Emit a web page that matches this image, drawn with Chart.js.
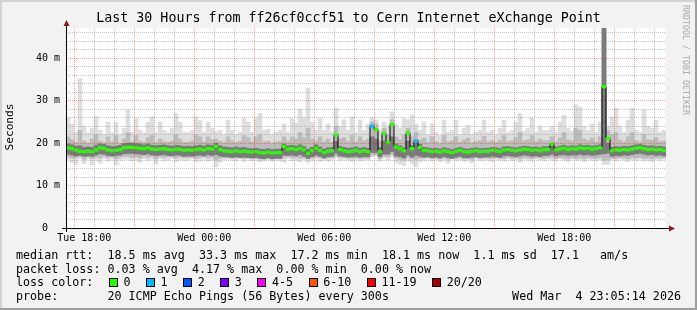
<!DOCTYPE html>
<html><head><meta charset="utf-8">
<script src="https://cdn.jsdelivr.net/npm/chart.js@4.4.1/dist/chart.umd.min.js"></script>
<style>
html,body{margin:0;padding:0;background:#f2f2f2;}
#wrap{position:relative;width:697px;height:310px;overflow:hidden;background:#f2f2f2;font-family:'DejaVu Sans Mono',monospace;color:#000;}
#c{position:absolute;left:0;top:0;}
.t{position:absolute;white-space:pre;font-size:11.7px;line-height:14px;}
.box{display:inline-block;width:7px;height:7px;border:1px solid #000;margin:0 5.5px 0 1.5px;vertical-align:-1px;}
#title{position:absolute;left:0;top:10px;width:697px;text-align:center;font-size:13.3px;line-height:16px;white-space:pre;}
#ylab{position:absolute;left:-30px;top:120px;width:80px;text-align:center;font-size:11.2px;line-height:14px;transform:rotate(-90deg);}
#wm{position:absolute;left:626px;top:53px;width:120px;text-align:center;font-size:8.3px;line-height:14px;transform:rotate(90deg);color:#a8a8a8;white-space:pre;}
.bt,.bl,.bb,.br{position:absolute;}
.bt{left:0;top:0;width:697px;height:2px;background:#d2d2d2;}
.bl{left:0;top:0;width:2px;height:310px;background:#d2d2d2;}
.bb{left:0;top:308px;width:697px;height:2px;background:#9e9e9e;}
.br{left:695px;top:0;width:2px;height:310px;background:#9e9e9e;}
</style></head>
<body>
<div id="wrap">
<div class="bt"></div><div class="bl"></div><div class="bb"></div><div class="br"></div>
<canvas id="c" width="697" height="310" style="width:697px;height:310px"></canvas>
<div id="title">Last 30 Hours from ff26cf0ccf51 to Cern Internet eXchange Point</div>
<div id="ylab">Seconds</div>
<div id="wm">RRDTOOL / TOBI OETIKER</div>
<div class="t" style="left:16px;top:248px">median rtt:  18.5 ms avg  33.3 ms max  17.2 ms min  18.1 ms now  1.1 ms sd  17.1   am/s</div>
<div class="t" style="left:16px;top:262px">packet loss: 0.03 % avg  4.17 % max  0.00 % min  0.00 % now</div>
<div class="t" id="lossLine" style="left:16px;top:275px">loss color:  </div>
<div class="t" style="left:16px;top:289px">probe:       20 ICMP Echo Pings (56 Bytes) every 300s</div>
<div class="t" style="right:16px;top:289px">Wed Mar  4 23:05:14 2026</div>
</div>
<script>
// ---- data (ms), one value per 12-minute bin, 150 bins over 30 hours ----
const med = [
18.9,18.7,18.4,18.1,18.0,18.1,18.0,18.4,18.9,18.8,18.4,18.2,18.3,18.5,18.9,
19.0,19.0,18.9,18.8,18.7,18.9,18.6,18.5,18.6,18.7,18.5,18.4,18.6,18.5,18.3,
18.4,18.3,18.5,18.6,18.4,18.7,18.6,19.2,18.5,18.2,18.1,18.0,18.2,18.0,18.1,
18.0,17.9,18.0,17.8,17.7,17.9,17.7,17.8,17.8,19.2,18.6,18.7,18.5,18.8,18.4,
17.6,18.2,18.8,18.3,17.8,18.1,18.2,21.9,18.5,18.2,18.0,18.1,18.3,18.0,18.2,
18.0,24.0,23.2,18.0,22.3,20.2,24.4,19.1,18.7,18.2,22.4,18.7,20.5,19.0,18.3,
18.2,18.0,18.1,17.9,18.2,18.0,17.8,18.1,18.3,18.0,17.9,18.1,18.2,18.0,18.1,
18.1,18.3,18.2,18.0,18.4,18.5,18.3,18.2,18.4,18.6,18.5,18.3,18.4,18.2,18.5,
18.5,19.8,18.4,18.6,18.8,18.5,18.7,18.6,18.9,18.7,18.8,18.6,18.7,18.9,33.3,
21.1,18.2,18.4,18.3,18.5,18.4,18.6,18.8,18.9,18.7,18.5,18.6,18.4,18.5,18.3];
const loss = [
0,0,0,0,0,0,0,0,0,0,0,0,0,0,0,
0,0,0,0,0,0,0,0,0,0,0,0,0,0,0,
0,0,0,0,0,0,0,0,0,0,0,0,0,0,0,
0,0,0,0,0,0,0,0,0,0,0,0,0,0,0,
0,0,0,0,0,0,0,0,0,0,0,0,0,0,0,
0,1,0,0,0,0,0,0,0,0,0,0,1,0,0,
0,0,0,0,0,0,0,0,0,0,0,0,0,0,0,
0,0,0,0,0,0,0,0,0,0,0,0,0,0,0,
0,0,0,0,0,0,0,0,0,0,0,0,0,0,0,
0,0,0,0,0,0,0,0,0,0,0,0,0,0,0];
const lightHi = [
26.0,24.5,22.5,35.2,24.0,22.5,23.5,26.2,23.0,22.0,25.0,22.5,25.0,22.0,23.5,
27.8,22.5,25.8,23.0,22.5,25.0,26.2,22.5,25.0,23.0,22.5,23.5,27.0,25.0,22.5,
22.5,23.0,26.2,25.3,22.5,25.0,23.5,22.7,23.0,22.0,25.4,23.0,22.0,22.5,25.8,
25.0,22.5,25.8,27.0,23.0,23.3,22.0,22.5,23.0,24.5,22.5,25.8,24.7,28.0,26.0,
33.0,25.0,23.0,25.8,23.0,24.5,22.5,28.2,24.0,25.5,23.0,26.2,22.5,25.5,23.0,
24.5,26.0,25.5,23.0,25.0,24.0,27.4,24.5,23.5,25.8,25.5,26.6,24.5,23.0,25.0,
22.0,24.6,22.5,21.8,25.4,22.5,23.0,25.4,22.0,23.5,24.2,22.0,22.5,23.0,25.4,
22.5,23.0,22.0,23.5,25.4,22.5,23.0,25.0,27.0,22.8,23.5,25.9,22.5,24.0,23.0,
23.0,24.0,22.5,25.0,26.6,23.5,22.8,29.0,28.5,24.0,23.0,24.5,22.5,25.0,47.1,
24.0,26.2,28.2,24.0,22.5,25.4,28.2,23.0,22.5,27.8,24.0,23.5,25.4,22.5,23.0];
const lightLo = [
16.0,15.4,15.0,16.4,15.2,16.2,14.9,16.0,15.3,16.3,15.8,16.2,14.9,16.0,16.2,
16.2,15.8,16.0,15.5,16.3,15.9,16.2,15.1,16.3,15.8,16.0,16.4,15.6,16.1,15.9,
16.0,16.3,15.6,15.9,16.2,15.7,16.0,14.4,15.5,16.1,16.2,16.0,15.8,16.3,15.7,
16.2,15.8,16.0,15.6,15.9,16.1,15.7,16.0,15.8,15.5,16.3,15.8,16.0,15.6,16.1,
15.5,16.0,16.2,15.7,16.0,15.8,16.1,16.5,15.9,16.2,16.0,15.7,16.1,15.8,16.0,
16.0,16.8,17.0,15.8,16.5,16.0,16.8,15.5,15.0,14.7,15.8,15.2,14.4,15.6,16.0,
16.2,15.8,16.1,15.6,16.0,15.3,16.2,15.9,16.1,15.7,16.0,15.4,16.2,15.9,16.0,
16.0,15.6,16.2,16.0,15.8,16.3,15.9,16.1,15.5,16.2,16.0,15.7,16.3,16.1,15.8,
16.2,16.0,15.8,16.3,16.0,15.7,16.2,15.9,16.1,15.6,16.2,16.0,15.8,16.1,15.0,
15.0,16.1,15.8,16.2,16.0,15.7,16.1,15.9,16.2,15.8,16.0,15.6,16.1,15.9,16.2];
const midHi = [
21.5,20.8,20.2,23.0,20.5,20.0,21.0,22.0,20.5,20.2,21.5,20.3,21.8,20.0,21.0,
22.5,20.3,21.8,20.5,20.2,21.3,21.8,20.2,21.0,20.4,20.2,20.5,22.0,21.0,20.2,
20.2,20.5,22.0,21.5,20.3,21.5,20.8,21.0,20.5,20.2,21.5,20.6,20.1,20.4,21.8,
21.3,20.3,21.5,22.0,20.3,20.5,20.0,20.3,20.4,21.5,20.5,21.5,21.0,22.5,21.3,
23.5,21.0,20.5,21.5,20.3,21.0,20.2,24.0,21.0,21.3,20.4,21.8,20.3,21.5,20.5,
21.0,25.0,24.5,20.5,23.5,22.0,25.5,21.5,20.8,22.0,23.5,21.5,22.5,20.8,21.2,
20.2,21.5,20.4,20.0,21.8,20.3,20.6,21.5,20.2,20.8,21.2,20.1,20.4,20.6,21.6,
20.3,20.6,20.2,20.7,21.8,20.4,20.6,21.3,22.5,20.5,20.8,21.8,20.4,21.0,20.6,
20.6,21.5,20.3,21.2,22.5,20.8,20.5,23.5,23.0,21.0,20.6,21.2,20.3,21.5,47.1,
23.0,22.0,22.5,20.8,20.3,21.5,22.5,20.6,20.3,22.0,20.8,20.7,21.3,20.4,20.5];
const midLo = [
16.8,16.5,16.6,16.9,16.2,16.8,16.4,16.7,16.5,16.9,16.6,16.8,16.3,16.7,16.9,
16.9,16.6,16.8,16.5,17.0,16.7,16.9,16.3,16.8,16.6,16.8,17.0,16.5,16.8,16.6,
16.6,16.8,16.4,16.6,16.8,16.5,16.7,16.0,16.4,16.7,16.7,16.6,16.5,16.8,16.4,
16.6,16.5,16.6,16.3,16.4,16.6,16.3,16.5,16.4,16.6,16.8,16.6,16.7,16.4,16.6,
16.3,16.5,16.8,16.6,16.4,16.5,16.6,17.0,16.7,16.6,16.5,16.4,16.6,16.4,16.5,
16.4,17.2,17.3,16.3,16.9,16.8,17.4,16.5,16.2,16.0,16.7,16.3,16.2,16.4,16.5,
16.6,16.4,16.6,16.3,16.5,16.2,16.5,16.4,16.6,16.3,16.5,16.2,16.6,16.4,16.5,
16.5,16.4,16.6,16.5,16.4,16.7,16.5,16.6,16.3,16.6,16.5,16.4,16.7,16.6,16.4,
16.6,16.7,16.4,16.6,16.5,16.3,16.6,16.4,16.6,16.3,16.6,16.5,16.4,16.6,16.0,
16.2,16.5,16.4,16.6,16.5,16.3,16.6,16.5,16.6,16.4,16.5,16.3,16.6,16.5,16.6];
const darkHi = [
19.8,19.6,19.3,19.4,19.0,19.1,19.0,19.5,19.8,19.7,19.4,19.2,19.3,19.5,19.9,
20.0,20.0,19.9,19.8,19.6,19.8,19.5,19.4,19.5,19.6,19.4,19.3,19.5,19.4,19.2,
19.3,19.2,19.4,19.5,19.3,19.6,19.5,20.0,19.4,19.1,19.0,18.9,19.1,18.9,19.0,
18.8,18.7,18.8,18.6,18.5,18.7,18.5,18.6,18.6,19.8,19.4,19.5,19.3,19.6,19.2,
18.6,19.0,19.6,19.1,18.6,18.9,19.0,20.5,19.2,19.0,18.8,18.9,19.1,18.8,19.0,
18.8,21.5,21.0,19.0,20.5,20.0,21.5,19.8,19.4,18.9,20.5,19.4,20.0,19.7,19.0,
18.9,18.7,18.8,18.6,18.9,18.7,18.5,18.8,19.0,18.7,18.6,18.8,18.9,18.7,18.8,
18.8,19.0,18.9,18.7,19.1,19.2,19.0,18.9,19.1,19.3,19.2,19.0,19.1,18.9,19.2,
19.2,19.6,19.1,19.3,19.5,19.2,19.4,19.3,19.6,19.4,19.5,19.3,19.4,19.6,47.1,
20.0,19.0,19.2,19.1,19.3,19.2,19.4,19.6,19.7,19.5,19.3,19.4,19.2,19.3,19.1];
const darkLo = [
17.4,17.2,17.0,17.1,16.9,17.0,16.9,17.2,17.5,17.4,17.1,17.0,17.1,17.2,17.5,
17.6,17.6,17.5,17.4,17.3,17.5,17.2,17.1,17.2,17.3,17.1,17.0,17.2,17.1,16.9,
17.0,16.9,17.1,17.2,17.0,17.3,17.1,17.3,17.0,16.8,16.7,16.6,16.8,16.6,16.7,
16.6,16.5,16.6,16.4,16.3,16.5,16.3,16.4,16.4,17.2,17.1,17.2,17.0,17.3,16.9,
16.4,16.8,17.2,16.9,16.5,16.8,16.9,17.6,17.0,16.9,16.7,16.8,16.9,16.7,16.8,
16.8,17.8,17.8,16.8,17.4,17.4,18.0,17.0,16.8,16.5,17.2,16.7,17.1,16.9,16.7,
16.8,16.6,16.7,16.5,16.8,16.6,16.4,16.7,16.9,16.6,16.5,16.7,16.8,16.6,16.7,
16.7,16.9,16.8,16.6,17.0,17.1,16.9,16.8,17.0,17.2,17.1,16.9,17.0,16.8,17.1,
17.1,17.4,17.0,17.2,17.3,17.1,17.2,17.2,17.4,17.2,17.3,17.1,17.2,17.4,17.5,
17.6,16.9,17.1,17.0,17.2,17.1,17.3,17.5,17.6,17.4,17.2,17.3,17.1,17.2,17.0];

const lossLabels = ['0','1','2','3','4-5','6-10','11-19','20/20'];
const lossColors = ['#26ff00','#00b8ff','#0059ff','#7e00ff','#ff00ff','#ff5500','#ff0000','#a10000'];
const yTickVals = [0,10,20,30,40];
const yTickLabels = ['0  ','10 m','20 m','30 m','40 m'];
const xLabelHours = [18,24,30,36,42];          // hours since Tue 00:00
const xTickLabels = ['Tue 18:00','Wed 00:00','Wed 06:00','Wed 12:00','Wed 18:00'];
const hourLines = [18,19,20,21,22,23,24,25,26,27,28,29,30,31,32,33,34,35,36,37,38,39,40,41,42,43,44,45,46,47];
const minorMs = [0,2,4,6,8,10,12,14,16,18,20,22,24,26,28,30,32,34,36,38,40,42,44,46];

// ---- time axis ----
const T_END = 47 + 5/60 + 14/3600;   // Wed 23:05:14
const T0 = T_END - 30;
const BIN_H = 30 / med.length;
const xs = med.map((_, i) => T0 + (i + 0.5) * BIN_H);
const floating = (lo, hi) => xs.map((x, i) => ({x, y: [lo[i], hi[i]]}));
const BAND = 0.3; // half-thickness of the median marker, ms

// legend boxes
const ll = document.getElementById('lossLine');
lossLabels.forEach((lab, i) => {
  const b = document.createElement('span'); b.className = 'box'; b.style.background = lossColors[i];
  ll.appendChild(b);
  ll.appendChild(document.createTextNode(lab + '  '));
});

const MAJOR = 'rgba(255,0,0,0.38)';
const MINOR = 'rgba(140,140,140,0.5)';
const FONT = {family: "'DejaVu Sans Mono', monospace", size: 10};

const rrdPlugin = {
  id: 'rrd',
  beforeDraw(chart) {
    const {ctx, chartArea: a} = chart;
    ctx.save(); ctx.fillStyle = '#ffffff';
    ctx.fillRect(a.left, a.top, a.right - a.left, a.bottom - a.top);
    ctx.restore();
  },
  afterDraw(chart) {
    const {ctx, chartArea: a} = chart;
    ctx.save();
    ctx.strokeStyle = '#000'; ctx.lineWidth = 1;
    ctx.beginPath();
    ctx.moveTo(a.left - 4, a.bottom + 0.5); ctx.lineTo(a.right + 4, a.bottom + 0.5);
    ctx.moveTo(a.left + 0.5, a.bottom + 4); ctx.lineTo(a.left + 0.5, a.top - 3);
    ctx.stroke();
    ctx.fillStyle = '#8b1a1a';
    ctx.beginPath(); ctx.moveTo(a.right + 3, a.bottom - 2.5); ctx.lineTo(a.right + 9, a.bottom + 0.5); ctx.lineTo(a.right + 3, a.bottom + 3.5); ctx.closePath(); ctx.fill();
    ctx.beginPath(); ctx.moveTo(a.left - 2.5, a.top - 2); ctx.lineTo(a.left + 0.5, a.top - 8); ctx.lineTo(a.left + 3.5, a.top - 2); ctx.closePath(); ctx.fill();
    ctx.restore();
  }
};

const barBase = {type: 'bar', borderWidth: 0, barPercentage: 1, categoryPercentage: 1, grouped: false};

new Chart(document.getElementById('c'), {
  type: 'bar',
  data: {
    datasets: [
      Object.assign({}, barBase, {label: 'median', data: xs.map((x, i) => ({x, y: [med[i] - BAND, med[i] + BAND]})), backgroundColor: loss.map(l => lossColors[l]), order: 0}),
      {type: 'line', label: 'median line', data: xs.map((x, i) => ({x, y: med[i]})), stepped: 'middle', borderColor: '#000', borderWidth: 1, pointRadius: 0, order: 1},
      Object.assign({}, barBase, {label: 'dark', data: floating(darkLo, darkHi), backgroundColor: '#7a7a7a', order: 2}),
      Object.assign({}, barBase, {label: 'mid', data: floating(midLo, midHi), backgroundColor: '#bcbcbc', order: 3}),
      Object.assign({}, barBase, {label: 'light', data: floating(lightLo, lightHi), backgroundColor: '#dedede', order: 4})
    ]
  },
  options: {
    responsive: false, animation: false, devicePixelRatio: 1,
    layout: {padding: {top: 28, right: 31, left: 0, bottom: 0}},
    plugins: {legend: {display: false}, tooltip: {enabled: false}, title: {display: false}},
    scales: {
      x: {
        type: 'linear', min: T0, max: T_END, offset: false,
        afterFit: s => { s.height = 82; },
        afterBuildTicks: s => { s.ticks = hourLines.map(v => ({value: v})); },
        ticks: {autoSkip: false, maxRotation: 0, font: FONT, color: '#000', padding: 4,
          callback: v => { const k = xLabelHours.indexOf(v); return k >= 0 ? xTickLabels[k] : ''; }},
        grid: {color: c => (c.tick && c.tick.value % 3 === 0) ? MAJOR : MINOR, drawTicks: false, z: 1, lineWidth: 1},
        border: {display: false, dash: [1, 1]}
      },
      y: {
        min: 0, max: 47.14,
        afterFit: s => { s.width = 66; },
        afterBuildTicks: s => { s.ticks = minorMs.map(v => ({value: v})); },
        ticks: {autoSkip: false, font: FONT, color: '#000', padding: 6,
          callback: v => { const k = yTickVals.indexOf(v); return k >= 0 ? yTickLabels[k] : ''; }},
        grid: {color: c => (c.tick && c.tick.value % 10 === 0) ? MAJOR : MINOR, drawTicks: false, z: 1, lineWidth: 1},
        border: {display: false, dash: [1, 1]}
      }
    }
  },
  plugins: [rrdPlugin]
});
</script>
</body></html>
